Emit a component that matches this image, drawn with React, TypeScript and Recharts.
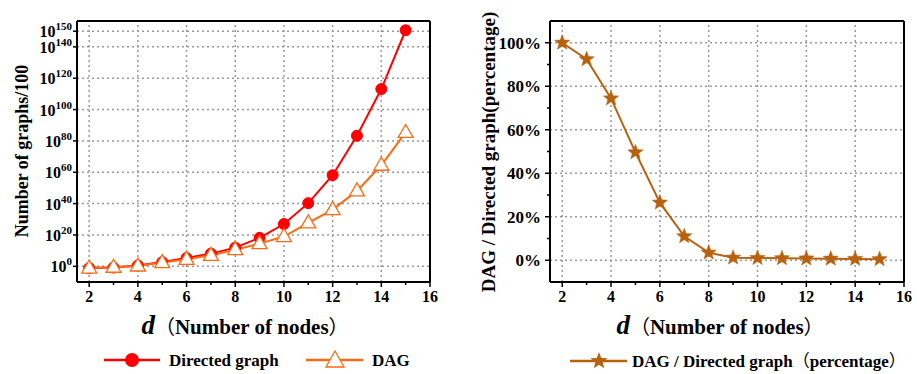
import React from 'react';
import { LineChart, Line, XAxis, YAxis, ReferenceLine } from 'recharts';

const nodes = [2, 3, 4, 5, 6, 7, 8, 9, 10, 11, 12, 13, 14, 15];
const directedGraphs = [0.08, 0.16, 4, 500, 2e5, 1.3e8, 8e11, 1.6e18, 1e27, 2e40, 1.3e58, 2e83, 1.3e113, 4e150];
const dagGraphs = [0.08, 0.25, 1.6, 250, 3e4, 1e7, 4e10, 3e14, 1e19, 5e27, 1.6e36, 1.3e48, 3e64, 2.5e85];
const dagRatioPct = [100, 92.4, 74.4, 49.6, 26.5, 11.0, 3.5, 1.2, 1.0, 0.9, 0.8, 0.7, 0.6, 0.5];

const xTicks = [2, 3, 4, 5, 6, 7, 8, 9, 10, 11, 12, 13, 14, 15, 16];
const xGrid = [2, 4, 6, 8, 10, 12, 14];
const logTicks = [1, 1e20, 1e40, 1e60, 1e80, 1e100, 1e120, 1e140, 1e150];
const pctTicks = [0, 10, 20, 30, 40, 50, 60, 70, 80, 90, 100];
const pctGrid = [0, 20, 40, 60, 80, 100];
const logDomain = [1e-10, 3.16e156];
const pctDomain = [-10, 110];
const xDomain = [1.5, 16];

const leftData = nodes.map((d, i) => ({ d, directed: directedGraphs[i], dag: dagGraphs[i] }));
const rightData = nodes.map((d, i) => ({ d, ratio: dagRatioPct[i] }));

const FONT = "'Liberation Serif', 'Times New Roman', Times, 'DejaVu Serif', serif";
const CJK = "'Noto Sans CJK SC', 'Liberation Serif', serif";
const RED = '#FF0000';
const ORANGE = '#FF6A13';
const BROWN = '#B8620F';
const GRID = '#999999';

const XTick = (props: any) => {
  const { x, y, payload } = props;
  const v = payload.value;
  const major = v % 2 === 0;
  return (
    <g>
      <line x1={x} x2={x} y1={y} y2={y + (major ? 5 : 3)} stroke="#000" strokeWidth={1.5} />
      {major && (
        <text x={x} y={y + 20} textAnchor="middle" fontFamily={FONT} fontWeight="bold" fontSize={16} fill="#000">
          {v}
        </text>
      )}
    </g>
  );
};

const LogYTick = (props: any) => {
  const { x, y, payload } = props;
  const exp = Math.round(Math.log10(payload.value));
  return (
    <g>
      <line x1={x - 4} x2={x} y1={y} y2={y} stroke="#000" strokeWidth={1.5} />
      <text x={x - 5} y={y + 6} textAnchor="end" fontFamily={FONT} fontWeight="bold" fontSize={16} fill="#000">
        <tspan>10</tspan>
        <tspan dy={-7} fontSize={11}>{exp}</tspan>
      </text>
    </g>
  );
};

const PctYTick = (props: any) => {
  const { x, y, payload } = props;
  const v = payload.value;
  const major = v % 20 === 0;
  return (
    <g>
      <line x1={x - (major ? 5 : 3)} x2={x} y1={y} y2={y} stroke="#000" strokeWidth={1.5} />
      {major && (
        <text x={x - 9} y={y + 6} textAnchor="end" fontFamily={FONT} fontWeight="bold" fontSize={17} fill="#000">
          {v + '%'}
        </text>
      )}
    </g>
  );
};

const CircleDot = (props: any) => {
  const { cx, cy, index } = props;
  if (cx == null || cy == null) return <g key={index} />;
  return <circle key={index} cx={cx} cy={cy} r={5.5} fill={RED} stroke={RED} />;
};

const TriangleDot = (props: any) => {
  const { cx, cy, index } = props;
  if (cx == null || cy == null) return <g key={index} />;
  const d = `M${cx},${cy - 8} L${cx + 7.5},${cy + 5} L${cx - 7.5},${cy + 5} Z`;
  return <path key={index} d={d} fill="#fff" stroke={ORANGE} strokeWidth={1.3} />;
};

const starPath = (cx: number, cy: number, R: number, r: number) => {
  let s = '';
  for (let k = 0; k < 10; k++) {
    const rad = k % 2 === 0 ? R : r;
    const a = -Math.PI / 2 + (k * Math.PI) / 5;
    s += (k === 0 ? 'M' : 'L') + (cx + rad * Math.cos(a)).toFixed(2) + ',' + (cy + rad * Math.sin(a)).toFixed(2);
  }
  return s + 'Z';
};

const StarDot = (props: any) => {
  const { cx, cy, index } = props;
  if (cx == null || cy == null) return <g key={index} />;
  return <path key={index} d={starPath(cx, cy, 8, 3.4)} fill={BROWN} stroke={BROWN} strokeWidth={0.5} />;
};

const axisLine = { stroke: '#000', strokeWidth: 2 };
const gridProps = { stroke: GRID, strokeWidth: 1.5, strokeDasharray: '2 3', ifOverflow: 'visible' as const };
const frameProps = { stroke: '#000', strokeWidth: 2, ifOverflow: 'visible' as const };

export default function App() {
  return (
    <div style={{ position: 'absolute', left: 0, top: 0, width: 917, height: 374, background: '#fff' }}>
      <div style={{ position: 'absolute', left: 0, top: 0 }}>
        <LineChart width={460} height={374} data={leftData} margin={{ top: 21, right: 30, left: 17, bottom: 62 }}>
          <XAxis
            dataKey="d"
            type="number"
            domain={xDomain}
            ticks={xTicks}
            allowDataOverflow
            height={30}
            tickLine={false}
            tickSize={0}
            tickMargin={0}
            axisLine={axisLine}
            tick={<XTick />}
            interval={0}
          />
          <YAxis
            type="number"
            scale="log"
            domain={logDomain}
            allowDataOverflow
            ticks={logTicks}
            width={60}
            tickLine={false}
            tickSize={0}
            tickMargin={0}
            axisLine={axisLine}
            tick={<LogYTick />}
            interval={0}
          />
          {xGrid.map((v) => (
            <ReferenceLine key={'vx' + v} x={v} {...gridProps} />
          ))}
          {logTicks.map((v) => (
            <ReferenceLine key={'hy' + v} y={v} {...gridProps} />
          ))}
          <ReferenceLine x={xDomain[1]} {...frameProps} />
          <ReferenceLine y={logDomain[1]} {...frameProps} />
          <Line
            dataKey="directed"
            stroke={RED}
            strokeWidth={2}
            dot={CircleDot}
            activeDot={false}
            isAnimationActive={false}
          />
          <Line
            dataKey="dag"
            stroke={ORANGE}
            strokeWidth={2}
            dot={TriangleDot}
            activeDot={false}
            isAnimationActive={false}
          />
        </LineChart>
      </div>
      <div style={{ position: 'absolute', left: 460, top: 0 }}>
        <LineChart width={457} height={374} data={rightData} margin={{ top: 21, right: 13, left: 30, bottom: 62 }}>
          <XAxis
            dataKey="d"
            type="number"
            domain={xDomain}
            ticks={xTicks}
            allowDataOverflow
            height={30}
            tickLine={false}
            tickSize={0}
            tickMargin={0}
            axisLine={axisLine}
            tick={<XTick />}
            interval={0}
          />
          <YAxis
            type="number"
            domain={pctDomain}
            allowDataOverflow
            ticks={pctTicks}
            width={60}
            tickLine={false}
            tickSize={0}
            tickMargin={0}
            axisLine={axisLine}
            tick={<PctYTick />}
            interval={0}
          />
          {xGrid.map((v) => (
            <ReferenceLine key={'vx' + v} x={v} {...gridProps} />
          ))}
          {pctGrid.map((v) => (
            <ReferenceLine key={'hy' + v} y={v} {...gridProps} />
          ))}
          <ReferenceLine x={xDomain[1]} {...frameProps} />
          <ReferenceLine y={pctDomain[1]} {...frameProps} />
          <Line
            dataKey="ratio"
            stroke={BROWN}
            strokeWidth={2}
            dot={StarDot}
            activeDot={false}
            isAnimationActive={false}
          />
        </LineChart>
      </div>
      <svg
        width={917}
        height={374}
        style={{ position: 'absolute', left: 0, top: 0, pointerEvents: 'none' }}
        fontFamily={FONT}
        fontWeight="bold"
      >
        <text transform="rotate(-90, 22, 151)" x={22} y={151} textAnchor="middle" dominantBaseline="central" fontSize={18} fill="#000">
          Number of graphs/100
        </text>
        <text transform="rotate(-90, 488, 152)" x={488} y={152} textAnchor="middle" dominantBaseline="central" fontSize={19} fill="#000">
          DAG / Directed graph(percentage)
        </text>
        <text x={245} y={334} textAnchor="middle" fill="#000">
          <tspan fontSize={27} fontStyle="italic">d</tspan>
          <tspan fontSize={20} fontFamily={CJK} fontWeight="normal">（</tspan>
          <tspan fontSize={21}>Number of nodes</tspan>
          <tspan fontSize={20} fontFamily={CJK} fontWeight="normal">）</tspan>
        </text>
        <text x={720} y={334} textAnchor="middle" fill="#000">
          <tspan fontSize={27} fontStyle="italic">d</tspan>
          <tspan fontSize={20} fontFamily={CJK} fontWeight="normal">（</tspan>
          <tspan fontSize={21}>Number of nodes</tspan>
          <tspan fontSize={20} fontFamily={CJK} fontWeight="normal">）</tspan>
        </text>
        <line x1={104} x2={160} y1={360} y2={360} stroke={RED} strokeWidth={2.5} />
        <circle cx={132} cy={360} r={7} fill={RED} />
        <text x={169} y={366} fontSize={17} fill="#000">Directed graph</text>
        <line x1={306} x2={363} y1={360} y2={360} stroke={ORANGE} strokeWidth={2.5} />
        <path d="M335,351 L344,367 L326,367 Z" fill="#fff" stroke={ORANGE} strokeWidth={1.3} />
        <text x={372} y={366} fontSize={17} fill="#000">DAG</text>
        <line x1={570} x2={627} y1={361} y2={361} stroke={BROWN} strokeWidth={2.5} />
        <path d={starPath(599, 361, 9, 3.8)} fill={BROWN} />
        <text x={632} y={367} fill="#000">
          <tspan fontSize={17}>DAG / Directed graph</tspan>
          <tspan fontSize={17} fontFamily={CJK} fontWeight="normal">（</tspan>
          <tspan fontSize={17}>percentage</tspan>
          <tspan fontSize={17} fontFamily={CJK} fontWeight="normal">）</tspan>
        </text>
      </svg>
    </div>
  );
}
